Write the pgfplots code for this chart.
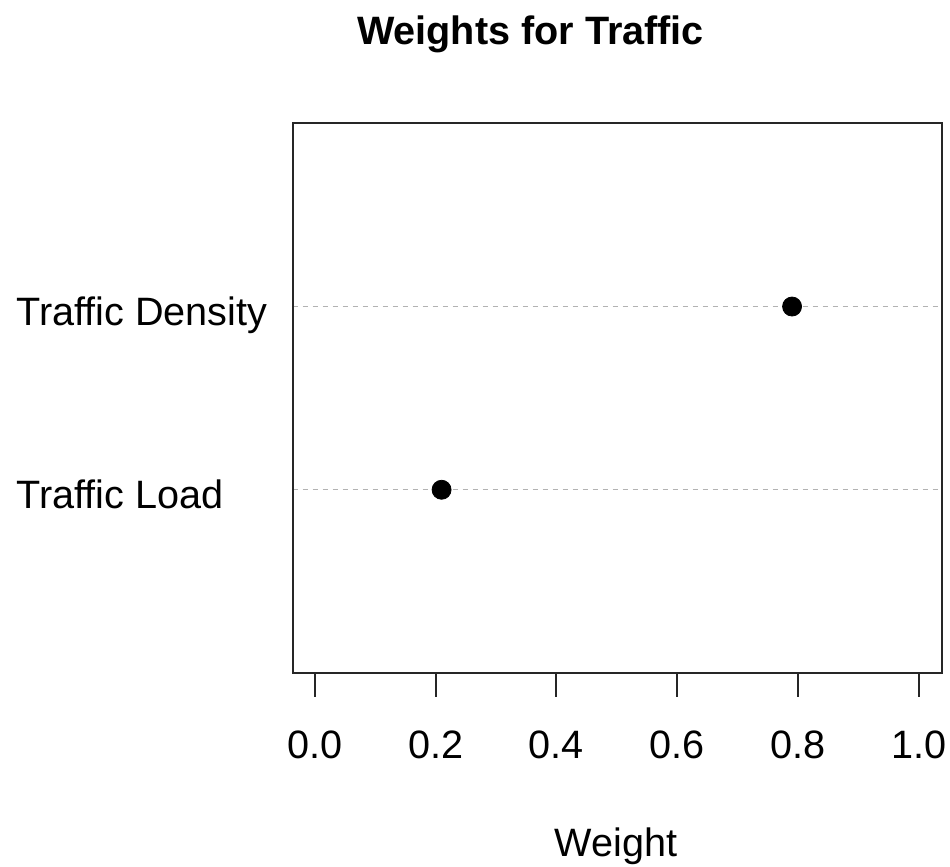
\documentclass[border=0pt]{standalone}
\usepackage{fontspec}
\setmainfont{Liberation Sans}
\usepackage{pgfplots}
\pgfplotsset{compat=1.18}
\begin{document}
\begin{tikzpicture}
\useasboundingbox (0,0) rectangle (475pt,433.5pt);
\begin{axis}[
  at={(146.35pt,97pt)}, anchor=south west,
  scale only axis, width=324.5pt, height=274.85pt,
  xmin=-0.0364, xmax=1.0376, ymin=0, ymax=3,
  axis line style={line width=1pt, black!85},
  xtick={0,0.2,0.4,0.6,0.8,1.0},
  xticklabels={0.0,0.2,0.4,0.6,0.8,1.0},
  xtick pos=bottom, tick align=outside,
  major tick length=12pt,
  xtick style={line width=1pt, black!85},
  ytick={1,2},
  yticklabels={Traffic Load,Traffic Density},
  ytick style={draw=none},
  ymajorgrids,
  major grid style={gray!60, line width=0.6pt, dash pattern=on 2.5pt off 2.5pt},
  /pgf/number format/assume math mode=true,
  tick label style={font=\fontsize{19.8}{23}\selectfont},
  xticklabel style={anchor=base, inner sep=0pt, yshift=-31pt},
  yticklabel style={anchor=base west, inner sep=0pt, xshift=-126.35pt, yshift=-9.5pt},
  xlabel={Weight},
  xlabel style={font=\fontsize{19.8}{23}\selectfont, at={(rel axis cs:0.498,-0.3347)}, anchor=base, inner sep=0pt},
  title={\textbf{Weights for Traffic}},
  title style={font=\fontsize{19.8}{23}\selectfont, at={(rel axis cs:0.3664,1.1224)}, anchor=base, inner sep=0pt},
]
\addplot[only marks, mark=*, mark size=4.75pt, black] coordinates {(0.21,1) (0.79,2)};
\end{axis}
\end{tikzpicture}
\end{document}
